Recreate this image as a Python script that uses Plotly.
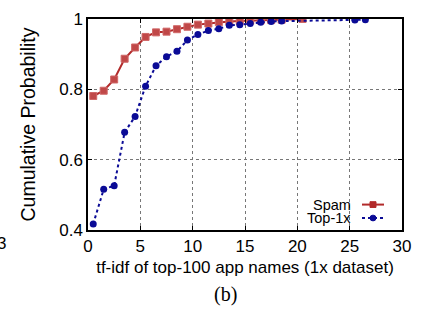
import plotly.graph_objects as go

spam_x = [0.5, 1.5, 2.5, 3.5, 4.5, 5.5, 6.5, 7.5, 8.5, 9.5, 10.5, 11.5, 12.5, 13.5, 14.5, 15.5, 16.5, 17.5, 18.5, 20.5]
spam_y = [0.781, 0.796, 0.828, 0.887, 0.919, 0.949, 0.962, 0.964, 0.971, 0.978, 0.984, 0.987, 0.991, 0.993, 0.994, 0.995, 0.996, 0.997, 0.998, 1.0]

top_x = [0.5, 1.5, 2.5, 3.5, 4.5, 5.5, 6.5, 7.5, 8.5, 9.5, 10.5, 11.5, 12.5, 13.5, 14.5, 15.5, 16.5, 17.5, 18.5, 25.5, 26.5]
top_y = [0.417, 0.516, 0.526, 0.678, 0.723, 0.809, 0.867, 0.893, 0.908, 0.940, 0.956, 0.967, 0.972, 0.982, 0.984, 0.987, 0.991, 0.993, 0.994, 0.997, 0.998]

x_ticks = [0, 5, 10, 15, 20, 25, 30]
y_ticks = [0.4, 0.6, 0.8, 1.0]
y_tick_labels = ["0.4", "0.6", "0.8", "1"]

RED = "#b22a2a"
BLUE = "#0b0b96"
FONT = "Liberation Sans, Arial, sans-serif"

fig = go.Figure()
fig.add_trace(go.Scatter(x=spam_x, y=spam_y, mode="lines+markers", name="Spam",
                         line=dict(color=RED, width=2),
                         marker=dict(symbol="square", size=7, color="#c04848",
                                     line=dict(color="#d06868", width=1)),
                         showlegend=False))
fig.add_trace(go.Scatter(x=top_x, y=top_y, mode="lines+markers", name="Top-1x",
                         line=dict(color=BLUE, width=2, dash="dot"),
                         marker=dict(symbol="circle", size=7, color=BLUE),
                         showlegend=False))

W, H = 421, 320
L, R, T, B = 88, 19, 10, 90
pw, ph = W - L - R, H - T - B

def px(p):
    return (p - L) / pw

def py(p):
    return (H - B - p) / ph

shapes = []
annotations = []
# custom legend: text then sample
leg = [("Spam", 203.5, RED, "solid", "square"), ("Top-1x", 217.5, BLUE, "dot", "circle")]
for name, yy, col, dash, sym in leg:
    annotations.append(dict(text=name, x=px(353), y=py(yy), xref="paper", yref="paper",
                            xanchor="right", yanchor="middle", showarrow=False,
                            font=dict(size=14.5, color="black", family=FONT)))
    shapes.append(dict(type="line", xref="paper", yref="paper", x0=px(362), x1=px(384),
                       y0=py(yy), y1=py(yy), line=dict(color=col, width=2, dash=dash)))
    r = 3
    shapes.append(dict(type="rect" if sym == "square" else "circle", xref="paper", yref="paper",
                       x0=px(373 - r), x1=px(373 + r), y0=py(yy + r), y1=py(yy - r),
                       fillcolor=col, line=dict(color=col, width=1)))

annotations.append(dict(text="(b)", x=px(225), y=py(297), xref="paper", yref="paper",
                        xanchor="center", yanchor="middle", showarrow=False,
                        font=dict(size=20, color="black", family="Liberation Serif, DejaVu Serif, serif")))
annotations.append(dict(text="3", x=px(1), y=py(244), xref="paper", yref="paper",
                        xanchor="center", yanchor="middle", showarrow=False,
                        font=dict(size=17, color="black", family=FONT)))

fig.update_layout(
    width=W, height=H,
    margin=dict(l=L, r=R, t=T, b=B, pad=0),
    paper_bgcolor="white", plot_bgcolor="white",
    font=dict(family=FONT, size=17, color="black"),
    shapes=shapes, annotations=annotations,
    xaxis=dict(range=[0, 30], tickvals=x_ticks, showline=True, linecolor="black", linewidth=1.5,
               mirror="ticks", ticks="inside", ticklen=4, tickcolor="black",
               tickfont=dict(size=17),
               showgrid=True, gridcolor="#777777", griddash="dot", gridwidth=1, zeroline=False,
               title=dict(text="tf-idf of top-100 app names (1x dataset)", standoff=6,
                          font=dict(size=17))),
    yaxis=dict(range=[0.4, 1.0], tickvals=y_ticks, ticktext=y_tick_labels, showline=True,
               linecolor="black", linewidth=1.5, mirror="ticks", ticks="inside", ticklen=4,
               tickcolor="black", tickfont=dict(size=17),
               showgrid=True, gridcolor="#777777", griddash="dot", gridwidth=1,
               zeroline=False,
               title=dict(text="Cumulative Probability", standoff=18, font=dict(size=19.5))),
)

fig.write_html("out.html", config={"displayModeBar": False},
               post_script="document.body.style.margin='0';document.body.style.overflow='hidden';")
